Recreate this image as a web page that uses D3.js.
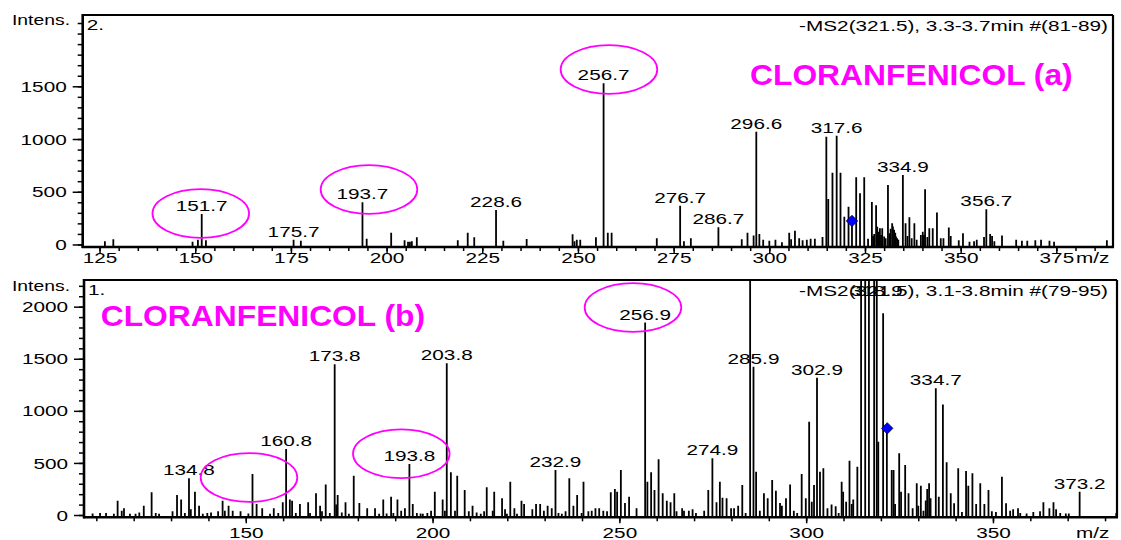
<!DOCTYPE html>
<html><head><meta charset="utf-8">
<script src="https://cdn.jsdelivr.net/npm/d3@7"></script>
<style>
html,body{margin:0;padding:0;background:#fff;}
svg{display:block;}
text{font-family:"Liberation Sans",Arial,sans-serif;}
</style></head>
<body>
<svg id="chart" width="1121" height="540"></svg>
<script>
// ---------- DATA ----------
// Panel (a)  -MS2(321.5), 3.3-3.7min #(81-89)
const mzA = [126.4,128.6,149.3,150.7,151.7,152.8,175.7,177.6,193.7,194.8,
  201.2,204.7,205.6,206.1,206.6,207.9,218.6,221.2,222.9,228.6,230.5,236.6,
  248.6,249.1,249.7,250.6,254.7,256.7,257.8,258.8,
  270.6,276.7,277.7,279.5,286.7,292.8,294.3,295.9,296.6,297.4,298.4,300.0,301.6,303.3,
  305.2,305.7,306.7,307.8,308.7,309.8,310.8,311.9,313.9,
  314.9,315.4,316.5,317.6,318.6,319.6,320.7,321.6,322.7,323.7,324.8,325.8,326.8,327.1,327.4,327.9,
  328.2,328.6,328.9,329.2,329.5,330.0,330.4,331.0,331.4,331.7,332.1,332.3,332.6,332.9,333.1,333.4,333.7,
  334.9,335.6,336.1,336.6,337.2,337.9,338.5,339.6,340.1,340.4,340.7,341.3,341.8,342.7,343.8,344.8,345.5,
  346.9,347.4,349.5,350.6,352.3,353.5,354.2,356.1,356.7,357.7,358.2,358.8,360.8,
  364.5,366.0,367.4,369.5,371.0,373.2,374.4,388.2];
const intA = [30,50,25,45,289,40,45,35,400,55,
  112,40,25,25,30,68,40,112,68,327,35,52,
  96,30,45,45,68,1528,112,112,
  60,368,30,60,163,50,112,85,1070,100,45,35,45,20,
  112,50,130,60,40,45,55,55,70,
  1022,431,681,1031,681,264,358,223,637,485,637,55,403,80,100,371,
  169,120,153,90,153,75,60,564,106,150,201,170,140,110,75,60,45,
  659,201,80,258,60,201,45,90,120,90,523,70,153,153,302,60,60,
  160,80,40,106,25,30,45,70,334,100,80,30,85,
  45,35,35,40,45,35,25,40];
const labelsA = [151.7,175.7,193.7,228.6,256.7,276.7,286.7,296.6,317.6,334.9,356.7];

// Panel (b)  -MS2(321.5), 3.1-3.8min #(79-95)
const mzB = [109.0,111.0,112.6,114.7,115.7,116.8,117.4,119.0,120.5,121.5,122.7,124.8,125.9,126.8,
  130.4,131.6,132.7,133.7,134.8,135.3,136.4,137.5,138.5,139.7,140.7,142.6,143.8,144.4,145.4,146.5,148.6,
  150.7,151.8,152.9,154.4,156.5,157.5,158.7,159.9,160.8,161.8,162.4,163.4,164.5,166.7,167.2,168.8,169.9,
  170.4,171.4,172.5,173.8,174.2,174.6,175.7,176.7,177.6,178.9,180.4,182.5,184.6,185.7,186.8,187.7,188.9,
  189.5,190.6,191.6,192.6,193.8,194.7,195.8,196.8,197.4,198.6,199.6,200.6,202.7,203.3,203.8,204.9,206.0,
  206.6,208.6,209.7,210.7,211.8,212.9,213.8,214.5,216.1,216.5,218.6,219.4,219.9,220.8,221.9,222.6,223.8,
  224.5,226.7,227.7,228.8,229.8,230.8,231.9,232.9,233.7,234.6,235.6,236.6,237.7,238.7,239.9,240.4,241.7,
  242.6,243.6,244.6,245.7,246.7,247.7,248.8,249.4,250.4,251.5,252.6,254.6,256.9,257.5,258.5,259.4,260.5,
  261.6,262.7,263.7,264.7,265.3,266.8,267.3,268.6,269.6,270.5,272.7,273.8,274.9,276.0,276.9,277.6,278.7,
  279.9,280.7,281.8,282.9,283.8,285.0,285.9,286.6,287.6,288.7,289.7,290.9,291.9,293.0,293.5,294.6,295.7,
  296.7,297.6,298.8,299.9,300.8,301.5,302.1,302.9,303.7,304.6,305.7,306.8,307.9,308.7,309.5,309.9,310.7,
  311.6,312.2,312.6,313.7,314.7,315.8,316.8,318.2,318.9,319.3,320.6,321.6,322.9,323.4,323.8,324.9,325.4,
  326.5,327.4,328.5,329.6,330.0,330.7,331.4,332.0,332.4,332.9,333.3,334.7,335.5,336.6,337.6,338.7,339.6,
  340.7,341.7,342.8,343.4,344.5,345.5,346.6,347.7,348.8,349.7,350.8,352.4,353.5,354.6,355.4,356.7,357.3,
  359.0,360.8,362.6,363.5,365.1,366.2,366.9,368.0,369.5,370.3,373.2,383.0];
const intB = [15,20,20,12,137,42,64,12,12,25,90,218,20,12,
  35,192,150,20,352,55,224,90,12,20,25,35,137,40,90,42,35,
  15,394,106,64,12,64,20,122,634,150,137,20,106,122,20,208,90,
  35,294,20,1447,100,192,25,122,12,377,115,64,64,12,150,15,176,
  20,150,40,64,490,106,20,15,12,20,42,224,150,42,1456,410,42,
  377,240,35,90,25,12,35,266,42,224,160,55,12,320,64,12,137,
  106,55,106,106,42,90,64,432,20,12,35,352,90,192,20,320,35,
  40,64,64,42,35,218,250,224,432,115,176,64,1847,320,410,240,535,
  208,137,122,208,35,64,40,42,55,20,42,240,544,122,320,165,160,
  64,64,90,288,20,2600,1424,416,40,208,160,336,234,115,90,160,294,
  42,20,394,160,896,128,288,1318,416,448,64,100,84,20,320,224,128,
  522,106,150,464,2600,2600,2600,2600,2600,704,1936,820,432,432,106,592,224,
  480,208,64,304,90,282,42,140,250,304,160,1216,176,1062,506,208,112,
  448,30,422,282,400,106,304,106,240,35,30,368,112,42,55,64,20,
  15,30,35,122,64,122,55,20,15,15,224,20];
const labelsB = [134.8,160.8,173.8,193.8,203.8,232.9,256.9,274.9,285.9,302.9,318.9,334.7,373.2];

// precursor markers (blue diamonds)
const diamondMz = [321.6, 321.7];
const diamondInt = [223, 832];
// circled peaks (ellipse centres)
const ellAmz = [151.45, 195.4, 258.1], ellAint = [294, 521, 1659];
const ellBmz = [150.86, 191.63, 253.64], ellBint = [360, 588, 1992];

const titles = ["CLORANFENICOL (a)", "CLORANFENICOL (b)"];
const scanText = ["-MS2(321.5), 3.3-3.7min #(81-89)", "-MS2(321.5), 3.1-3.8min #(79-95)"];
const panelNo = ["2.", "1."];
const yMajorA = [0,500,1000,1500], yMajorB = [0,500,1000,1500,2000];

// ---------- DRAW ----------
const svg = d3.select("#chart");
const STRETCH = 1.43;
function stretch(sel, k){
  sel.each(function(){
    const w = this.getComputedTextLength();
    d3.select(this).attr("textLength", w*k).attr("lengthAdjust","spacingAndGlyphs");
  });
}

function panel(cfg){
  const {x, y, mz, inten, labels, left, right, top, bottom, xMinor, xMajor, yMajor, yMaxMinor, id} = cfg;
  const g = svg.append("g");
  const base = y.range()[0];
  const clipId = "clip"+id;
  svg.append("clipPath").attr("id", clipId).append("rect")
    .attr("x", left).attr("y", top).attr("width", right-left).attr("height", bottom-top);

  // bars
  g.append("g").attr("clip-path", `url(#${clipId})`)
    .selectAll("line").data(mz).join("line")
    .attr("x1", d => x(d)).attr("x2", d => x(d))
    .attr("y1", base).attr("y2", (d,i) => y(inten[i]))
    .attr("stroke", "#000").attr("stroke-width", 1.8);

  // frame
  g.append("line").attr("x1", left).attr("x2", right).attr("y1", top).attr("y2", top)
    .attr("stroke","#000").attr("stroke-width",2.2);
  g.append("line").attr("x1", right).attr("x2", right).attr("y1", top).attr("y2", bottom)
    .attr("stroke","#000").attr("stroke-width",2.2);

  // x axis minor + major ticks
  const xa = g.append("g").attr("transform", `translate(0,${bottom})`);
  xa.call(d3.axisBottom(x).tickValues(xMinor).tickSize(4).tickFormat(""));
  const xb = g.append("g").attr("transform", `translate(0,${bottom})`);
  xb.call(d3.axisBottom(x).tickValues(xMajor).tickSize(6).tickFormat(d3.format("d")));
  [xa, xb].forEach(s => { s.select(".domain").remove(); s.selectAll("line").attr("stroke-width",1.5); });
  xb.selectAll("text").attr("y", cfg.xLabelY).attr("dy", 0)
    .attr("font-size", "14.5px").attr("fill","#000").attr("font-family",'"Liberation Sans",Arial,sans-serif');
  stretch(xb.selectAll("text"), STRETCH);

  // y axis
  const yMinor = d3.range(0, yMaxMinor+1, 100);
  const ya = g.append("g").attr("transform", `translate(${left},0)`);
  ya.call(d3.axisLeft(y).tickValues(yMinor).tickSize(5).tickFormat(""));
  const yb = g.append("g").attr("transform", `translate(${left},0)`);
  yb.call(d3.axisLeft(y).tickValues(yMajor).tickSize(10).tickFormat(d3.format("d")));
  [ya, yb].forEach(s => { s.select(".domain").remove(); s.selectAll("line").attr("stroke-width",1.5); });
  yb.selectAll("text").attr("x", -16).attr("dy", "0.35em")
    .attr("font-size", "14.5px").attr("fill","#000").attr("font-family",'"Liberation Sans",Arial,sans-serif');
  stretch(yb.selectAll("text"), STRETCH);

  // axis lines
  g.append("line").attr("x1", left).attr("x2", left).attr("y1", top-1).attr("y2", bottom+1)
    .attr("stroke","#000").attr("stroke-width",2.6);
  g.append("line").attr("x1", left-1).attr("x2", right+1).attr("y1", bottom).attr("y2", bottom)
    .attr("stroke","#000").attr("stroke-width",2.6);

  // peak labels
  const ymax = y.domain()[1];
  const pl = g.append("g").selectAll("text").data(labels).join("text")
    .attr("x", d => x(d))
    .attr("y", d => { const i = mz.indexOf(d); const v = inten[i]; return v > ymax ? top + 16 : y(v) - 3; })
    .attr("text-anchor","middle").attr("font-size","14.5px").attr("fill","#000")
    .text(d => d3.format(".1f")(d));
  stretch(pl, STRETCH);

  // texts
  const t1 = g.append("text").attr("x", 12).attr("y", cfg.intensY).attr("font-size","14px").text("Intens.");
  stretch(t1, 1.38);
  const t2 = g.append("text").attr("x", left+4).attr("y", cfg.noY).attr("font-size","14.5px").text(cfg.no);
  stretch(t2, STRETCH);
  const t3 = g.append("text").attr("x", 1108).attr("y", cfg.scanY).attr("text-anchor","end")
    .attr("font-size","14.5px").text(cfg.scan);
  stretch(t3, STRETCH);
  const t4 = g.append("text").attr("x", 1076).attr("y", cfg.xLabelY + bottom).attr("font-size","14.5px").text("m/z");
  stretch(t4, STRETCH);
  const tt = g.append("text").attr("x", cfg.titleX).attr("y", cfg.titleY)
    .attr("font-size","30px").attr("font-weight","bold").attr("fill","#ff00ff").text(cfg.title);
  stretch(tt, 1.06);

  // ellipses
  g.append("g").selectAll("ellipse").data(cfg.ellMz).join("ellipse")
    .attr("cx", d => x(d)).attr("cy", (d,i) => y(cfg.ellInt[i]))
    .attr("rx", 48.3).attr("ry", 24.4)
    .attr("fill","none").attr("stroke","#ff00ff").attr("stroke-width",1.8);

  // diamond
  const dx = x(cfg.dMz), dy = y(cfg.dInt);
  g.append("rect").attr("x", -4).attr("y", -4).attr("width", 8).attr("height", 8)
    .attr("transform", `translate(${dx},${dy}) rotate(45)`)
    .attr("fill","#0000ff").attr("stroke","#000040").attr("stroke-width",0.8);
}

function draw(){
  // Panel (a)
  const xA = d3.scaleLinear().domain([120.6, 389.8]).range([82.7, 1113]);
  const yA = d3.scaleLinear().domain([-24, 2176]).range([247, 15]);
  panel({id:"A", x:xA, y:yA, mz:mzA, inten:intA, labels:labelsA,
    left:82.7, right:1113, top:15, bottom:247,
    xMinor: d3.range(125, 390, 5), xMajor: d3.range(125, 376, 25),
    yMajor: yMajorA, yMaxMinor: 2100, xLabelY: 16.3,
    intensY: 25, no: panelNo[0], noY: 29.5, scan: scanText[0], scanY: 31,
    title: titles[0], titleX: 750, titleY: 85,
    ellMz: ellAmz, ellInt: ellAint, dMz: diamondMz[0], dInt: diamondInt[0]});
  // Panel (b)
  const xB = d3.scaleLinear().domain([106.7, 383.2]).range([84, 1117]);
  const yB = d3.scaleLinear().domain([-22, 2256]).range([517.3, 280]);
  panel({id:"B", x:xB, y:yB, mz:mzB, inten:intB, labels:labelsB,
    left:84, right:1117, top:280, bottom:517.3,
    xMinor: d3.range(110, 381, 10), xMajor: d3.range(150, 351, 50),
    yMajor: yMajorB, yMaxMinor: 2200, xLabelY: 20.7,
    intensY: 290.7, no: panelNo[1], noY: 295, scan: scanText[1], scanY: 295.5,
    title: titles[1], titleX: 100.7, titleY: 325.7,
    ellMz: ellBmz, ellInt: ellBint, dMz: diamondMz[1], dInt: diamondInt[1]});
}
if (document.fonts && document.fonts.ready) document.fonts.ready.then(draw); else draw();
</script>
</body></html>
